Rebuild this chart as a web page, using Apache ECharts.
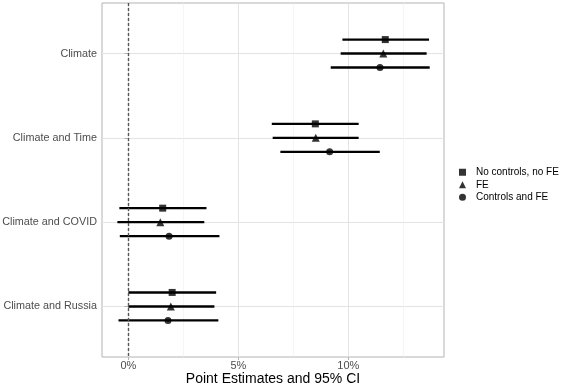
<!DOCTYPE html>
<html>
<head>
<meta charset="utf-8">
<script src="https://cdn.jsdelivr.net/npm/echarts@6/dist/echarts.min.js"></script>
<style>
html,body{margin:0;padding:0;background:#fff;}
#chart{width:563px;height:385px;}
</style>
</head>
<body>
<div id="chart"></div>
<script>
// ---- data (percent) ----
var categories = ['Climate', 'Climate and Time', 'Climate and COVID', 'Climate and Russia'];
var seriesNames = ['No controls, no FE', 'FE', 'Controls and FE'];

var estNoControls = [11.68, 8.50, 1.56, 1.99];
var loNoControls  = [9.73, 6.52, -0.41, 0.00];
var hiNoControls  = [13.67, 10.47, 3.55, 3.99];

var estFE = [11.59, 8.52, 1.45, 1.93];
var loFE  = [9.65, 6.56, -0.50, 0.00];
var hiFE  = [13.56, 10.47, 3.45, 3.91];

var estControls = [11.44, 9.15, 1.85, 1.80];
var loControls  = [9.20, 6.91, -0.39, -0.45];
var hiControls  = [13.70, 11.43, 4.14, 4.09];

var xTickValues = [0, 5, 10];
var xMinorValues = [2.5, 7.5, 12.5];

// ---- build ----
var FONT = '"Liberation Sans", Arial, Helvetica, sans-serif';
var dodge = [-0.166, 0, 0.166];
var symbols = ['rect', 'triangle', 'circle'];
var symbolSizes = [7, 8, 7];
var groups = [
  {est: estNoControls, lo: loNoControls, hi: hiNoControls},
  {est: estFE, lo: loFE, hi: hiFE},
  {est: estControls, lo: loControls, hi: hiControls}
];
var catPos = categories.map(function (c, i) { return i + 1; });

var series = [];
groups.forEach(function (g, k) {
  series.push({
    type: 'custom',
    name: seriesNames[k] + ' CI',
    xAxisIndex: 0, yAxisIndex: 0,
    data: catPos.map(function (p, i) { return [g.lo[i], g.hi[i], p + dodge[k]]; }),
    encode: {x: [0, 1], y: 2},
    renderItem: function (params, api) {
      var a = api.coord([api.value(0), api.value(2)]);
      var b = api.coord([api.value(1), api.value(2)]);
      return {type: 'line', shape: {x1: a[0], y1: a[1], x2: b[0], y2: b[1]},
              style: {stroke: '#000', lineWidth: 2.4}};
    },
    silent: true, z: 3
  });
});
groups.forEach(function (g, k) {
  var s = {
    type: 'scatter',
    name: seriesNames[k],
    symbol: symbols[k],
    symbolSize: symbolSizes[k],
    itemStyle: {color: '#000'},
    data: catPos.map(function (p, i) { return [g.est[i], p + dodge[k]]; }),
    z: 4
  };
  if (k === 0) {
    s.markLine = {
      silent: true, symbol: 'none', label: {show: false},
      lineStyle: {color: '#555', type: [3, 2], width: 1.4},
      data: [{xAxis: 0}]
    };
  }
  series.push(s);
});

var chart = echarts.init(document.getElementById('chart'), null, {renderer: 'canvas'});
chart.setOption({
  animation: false,
  backgroundColor: '#fff',
  textStyle: {fontFamily: FONT},
  grid: {left: 102, right: 119, top: 3, bottom: 28, outerBoundsMode: 'none', containLabel: false,
         show: true, borderColor: '#b3b3b3', borderWidth: 1, backgroundColor: 'transparent'},
  legend: {
    orient: 'vertical', left: 454, top: 161,
    data: seriesNames.map(function (n, k) { return {name: n, icon: symbols[k]}; }),
    itemWidth: 7, itemHeight: 7, itemGap: 0,
    textStyle: {fontSize: 10, lineHeight: 12.5, color: '#000', fontFamily: FONT, padding: [0, 0, 0, 5]},
    selectedMode: false
  },
  xAxis: [{
    type: 'value', min: -1.2, max: 14.35,
    name: 'Point Estimates and 95% CI', nameLocation: 'middle', nameGap: 15, nameMoveOverlap: false,
    nameTextStyle: {fontSize: 14, color: '#000', fontFamily: FONT},
    axisLine: {show: false},
    axisTick: {show: true, length: 3, lineStyle: {color: '#b3b3b3'}, customValues: xTickValues},
    axisLabel: {fontSize: 11, color: '#4d4d4d', margin: 3, fontFamily: FONT, customValues: xTickValues,
      formatter: function (v) { return v + '%'; }},
    splitLine: {show: true, lineStyle: {color: '#e3e3e3', width: 1}}
  }, {
    type: 'value', min: -1.2, max: 14.35, position: 'bottom',
    axisLine: {show: false}, axisTick: {show: false, customValues: xMinorValues},
    axisLabel: {show: false, customValues: xMinorValues},
    splitLine: {show: true, lineStyle: {color: '#efefef', width: 0.6}}
  }],
  yAxis: {
    type: 'value', min: 0.4, max: 4.6, inverse: true,
    axisLine: {show: false},
    axisTick: {show: true, length: 4, lineStyle: {color: '#b3b3b3'}, customValues: catPos},
    axisLabel: {fontSize: 10.8, color: '#4d4d4d', margin: 5, fontFamily: FONT, customValues: catPos,
      formatter: function (v) { return categories[Math.round(v) - 1]; }},
    splitLine: {show: true, lineStyle: {color: '#e3e3e3', width: 1}}
  },
  series: series
});
</script>
</body>
</html>
